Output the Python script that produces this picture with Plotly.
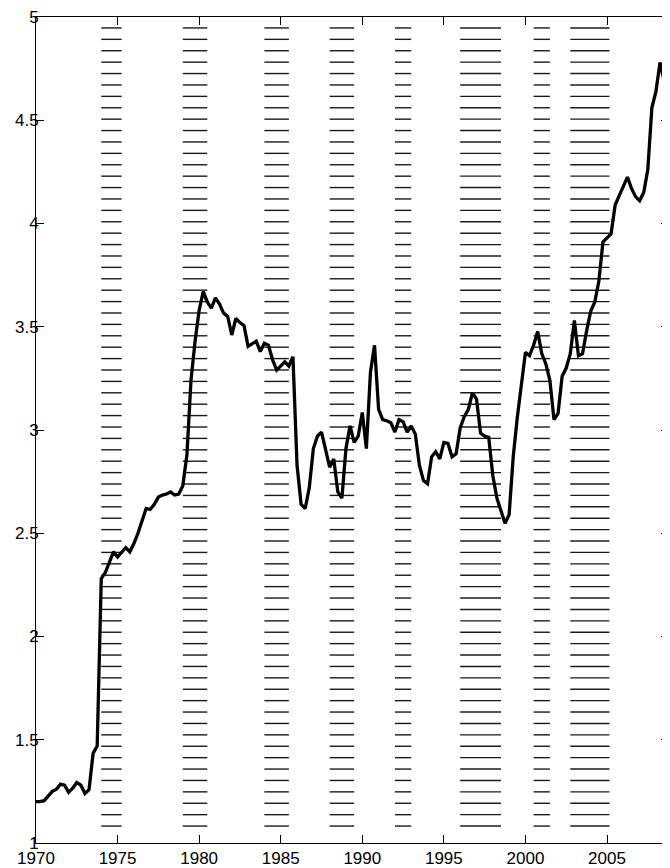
import numpy as np
import plotly.graph_objects as go

# Quarterly series, 1970Q1 .. 2008Q4
start_year = 1970.0
values = [
    1.20, 1.20, 1.205, 1.23,      # 1970
    1.25, 1.26, 1.285, 1.28,      # 1971
    1.245, 1.265, 1.293, 1.28,    # 1972
    1.24, 1.258, 1.434, 1.47,     # 1973
    2.28, 2.31, 2.36, 2.41,       # 1974
    2.385, 2.41, 2.43, 2.41,      # 1975
    2.45, 2.50, 2.56, 2.62,       # 1976
    2.615, 2.64, 2.675, 2.685,    # 1977
    2.69, 2.70, 2.685, 2.69,      # 1978
    2.73, 2.88, 3.24, 3.43,       # 1979
    3.58, 3.67, 3.62, 3.59,       # 1980
    3.64, 3.61, 3.566, 3.55,      # 1981
    3.46, 3.54, 3.52, 3.505,      # 1982
    3.405, 3.42, 3.43, 3.38,      # 1983
    3.42, 3.41, 3.34, 3.29,       # 1984
    3.31, 3.33, 3.31, 3.355,      # 1985
    2.83, 2.64, 2.62, 2.72,       # 1986
    2.91, 2.97, 2.99, 2.90,       # 1987
    2.82, 2.86, 2.70, 2.67,       # 1988
    2.91, 3.02, 2.94, 2.97,       # 1989
    3.085, 2.91, 3.28, 3.41,      # 1990
    3.10, 3.05, 3.045, 3.035,     # 1991
    2.99, 3.05, 3.04, 2.99,       # 1992
    3.02, 2.98, 2.83, 2.755,      # 1993
    2.74, 2.87, 2.895, 2.86,      # 1994
    2.94, 2.935, 2.87, 2.885,     # 1995
    3.01, 3.065, 3.10, 3.18,      # 1996
    3.15, 2.985, 2.97, 2.965,     # 1997
    2.78, 2.67, 2.61, 2.548,      # 1998
    2.59, 2.87, 3.06, 3.22,       # 1999
    3.376, 3.36, 3.41, 3.477,     # 2000
    3.37, 3.32, 3.24, 3.05,       # 2001
    3.08, 3.26, 3.30, 3.37,       # 2002
    3.53, 3.36, 3.37, 3.48,       # 2003
    3.575, 3.62, 3.72, 3.91,      # 2004
    3.93, 3.95, 4.09, 4.135,      # 2005
    4.18, 4.225, 4.17, 4.13,      # 2006
    4.11, 4.15, 4.26, 4.56,       # 2007
    4.64, 4.78, 4.69, 3.98,       # 2008
]
dates = [start_year + 0.25 * i for i in range(len(values))]

# Shaded (hatched) periods
band_starts = [1974.0, 1979.0, 1984.0, 1988.0, 1992.0, 1996.0, 2000.5, 2002.75]
band_ends = [1975.25, 1980.5, 1985.5, 1989.5, 1993.0, 1998.5, 2001.5, 2005.15]

x_tickvals = [1970, 1975, 1980, 1985, 1990, 1995, 2000, 2005]
x_ticktext = ["1970", "1975", "1980", "1985", "1990", "1995", "2000", "2005"]
y_tickvals = [1, 1.5, 2, 2.5, 3, 3.5, 4, 4.5, 5]
y_ticktext = ["1", "1.5", "2", "2.5", "3", "3.5", "4", "4.5", "5"]

# hatch rows (horizontal dashes inside bands)
hatch_rows = np.linspace(1.082, 4.947, 71)
hx, hy = [], []
for s, e in zip(band_starts, band_ends):
    for r in hatch_rows:
        hx += [s, e, None]
        hy += [r, r, None]

fig = go.Figure()
fig.add_trace(go.Scatter(x=hx, y=hy, mode="lines",
                         line=dict(color="#1a1a1a", width=1.4),
                         hoverinfo="skip", showlegend=False))
fig.add_trace(go.Scatter(x=dates, y=values, mode="lines",
                         line=dict(color="black", width=3.3),
                         showlegend=False))

font = dict(family="Liberation Sans, Arial, sans-serif", size=17, color="black")
fig.update_layout(
    width=662, height=860,
    margin=dict(l=28, r=0, t=7, b=21),
    paper_bgcolor="white", plot_bgcolor="white",
    font=font,
    showlegend=False,
)
fig.update_xaxes(range=[1970, 2008.8], tickvals=x_tickvals, ticktext=x_ticktext,
                 ticks="inside", ticklen=8, tickwidth=1, tickcolor="black",
                 showline=True, linecolor="black", linewidth=1, mirror="ticks",
                 showgrid=False, zeroline=False, tickfont=font,
                 ticklabeloverflow="allow")
fig.update_yaxes(range=[1, 5], tickvals=y_tickvals, ticktext=y_ticktext,
                 ticks="inside", ticklen=8, tickwidth=1, tickcolor="black",
                 showline=True, linecolor="black", linewidth=1, mirror="ticks",
                 showgrid=False, zeroline=False, tickfont=font, ticklabelstandoff=-7,
                 ticklabeloverflow="allow")

fig.write_html("out.html")
